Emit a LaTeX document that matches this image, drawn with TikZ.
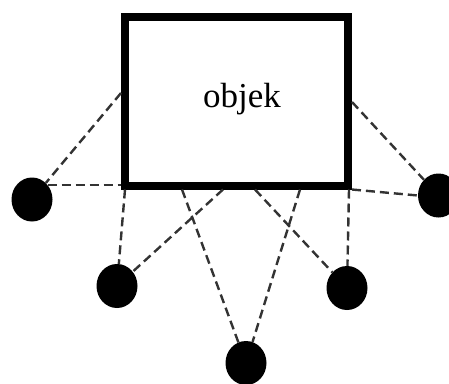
\documentclass[tikz,border=0pt]{standalone}
\usepackage{fontspec}
\setmainfont{Liberation Serif}
\usetikzlibrary{shapes.geometric}
\definecolor{dashgray}{HTML}{333333}
\tikzset{
  dot/.style={ellipse, fill=black, draw=none, minimum width=41pt, minimum height=44pt, inner sep=0pt},
  objbox/.style={draw=black, line width=8pt, minimum width=223pt, minimum height=169pt, inner sep=0pt, fill=white},
  link/.style={draw=dashgray, line width=2.4pt, dash pattern=on 9pt off 5pt}
}
\begin{document}
\begin{tikzpicture}[x=1pt,y=-1pt]
\useasboundingbox (0,0) rectangle (449,383);
\node[objbox] (obj) at (236.5,101) {};
\node[anchor=base, font=\fontsize{35}{40}\selectfont, inner sep=0pt] (lbl) at (242,107) {objek};
\node[dot] (lc) at (32,199.5) {};
\node[dot] (rc) at (438.5,195.5) {};
\node[dot] (llc) at (117,286) {};
\node[dot] (lrc) at (347,288) {};
\node[dot] (bc) at (246,363) {};
\draw[link] ([yshift=8pt]obj.west) -- (lc);
\draw[link] (lc.43) -- (lc.43 -| obj.west);
\draw[link] ([yshift=-1pt]obj.east) -- (rc);
\draw[link] (obj.south east) -- (rc.west);
\draw[link] ([xshift=4pt]obj.south west) -- (llc);
\draw[link] ([xshift=61pt]obj.south west) -- (bc);
\draw[link] ([xshift=102pt]obj.south west) -- (llc);
\draw[link] ([xshift=134pt]obj.south west) -- (lrc);
\draw[link] ([xshift=179pt]obj.south west) -- (bc);
\draw[link] ([xshift=-3pt]obj.south east) -- (lrc);
\end{tikzpicture}
\end{document}
